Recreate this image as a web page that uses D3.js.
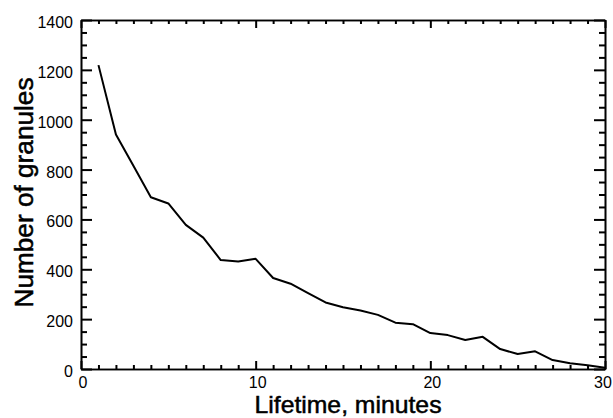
<!DOCTYPE html>
<html>
<head>
<meta charset="utf-8">
<script src="https://cdn.jsdelivr.net/npm/d3@7/dist/d3.min.js"></script>
<style>
  html, body { margin: 0; padding: 0; background: #fff; }
  svg { display: block; }
  text { font-family: "Liberation Sans", Arial, Helvetica, sans-serif; fill: #000; }
  .axis path.domain { stroke: #000; stroke-width: 1.6px; }
  .axis line { stroke: #000; stroke-width: 2px; }
</style>
</head>
<body>
<svg id="chart" width="613" height="418"></svg>
<script>
// Granule lifetime distribution
const lifetimes = [1,2,3,4,5,6,7,8,9,10,11,12,13,14,15,16,17,18,19,20,21,22,23,24,25,26,27,28,29,30];
const counts = [1219,941,815,689,664,578,527,437,431,442,365,342,304,267,248,235,217,186,180,144,136,116,129,80,60,71,36,23,15,5];
const xMajorTicks = [0,10,20,30];
const yMajorTicks = [0,200,400,600,800,1000,1200,1400];
const xTitle = "Lifetime, minutes";
const yTitle = "Number of granules";

(function () {
  const svg = d3.select("#chart");
  const plotLeft = 81, plotRight = 605, plotTop = 20, plotBottom = 369;

  const x = d3.scaleLinear().domain([0, 30]).range([plotLeft, plotRight]);
  const y = d3.scaleLinear().domain([0, 1400]).range([plotBottom, plotTop]);

  const xMinor = d3.range(0, 31, 1).filter(v => v % 10 !== 0);
  const yMinor = d3.range(0, 1401, 50).filter(v => v % 200 !== 0);

  // inward ticks on all four sides: minor then major
  function addAxis(gen, transform, values, size) {
    svg.append("g").attr("class", "axis").attr("transform", transform)
      .call(gen.tickValues(values).tickSizeInner(-size).tickSizeOuter(0).tickFormat(""));
  }
  addAxis(d3.axisBottom(x), `translate(0,${plotBottom})`, xMinor, 4);
  addAxis(d3.axisBottom(x), `translate(0,${plotBottom})`, xMajorTicks, 8);
  addAxis(d3.axisTop(x), `translate(0,${plotTop})`, xMinor, 4);
  addAxis(d3.axisTop(x), `translate(0,${plotTop})`, xMajorTicks, 8);
  addAxis(d3.axisLeft(y), `translate(${plotLeft},0)`, yMinor, 6);
  addAxis(d3.axisLeft(y), `translate(${plotLeft},0)`, yMajorTicks, 11);
  addAxis(d3.axisRight(y), `translate(${plotRight},0)`, yMinor, 6);
  addAxis(d3.axisRight(y), `translate(${plotRight},0)`, yMajorTicks, 11);

  // tick labels
  svg.append("g").selectAll("text").data(xMajorTicks).join("text")
    .attr("x", d => Math.min(x(d) + 2, 603)).attr("y", plotBottom + 19)
    .attr("text-anchor", "middle").attr("font-size", 16)
    .text(d => d);

  svg.append("g").selectAll("text").data(yMajorTicks).join("text")
    .attr("x", plotLeft - 8).attr("y", d => y(d) + 8)
    .attr("text-anchor", "end").attr("font-size", 16)
    .text(d => d);

  // data line
  const line = d3.line().x((d, i) => x(lifetimes[i])).y(d => y(d));
  svg.append("path")
    .datum(counts)
    .attr("d", line)
    .attr("fill", "none").attr("stroke", "#000").attr("stroke-width", 2)
    .attr("stroke-linejoin", "round");

  // axis titles
  svg.append("text")
    .attr("x", 348).attr("y", 413)
    .attr("text-anchor", "middle").attr("font-size", 24)
    .attr("textLength", 187).attr("lengthAdjust", "spacingAndGlyphs")
    .attr("stroke", "#000").attr("stroke-width", 0.5)
    .text(xTitle);

  svg.append("text")
    .attr("transform", `translate(33, ${(plotTop + plotBottom) / 2 - 2}) rotate(-90)`)
    .attr("text-anchor", "middle").attr("font-size", 25)
    .attr("textLength", 230).attr("lengthAdjust", "spacingAndGlyphs")
    .attr("stroke", "#000").attr("stroke-width", 0.5)
    .text(yTitle);
})();
</script>
</body>
</html>
